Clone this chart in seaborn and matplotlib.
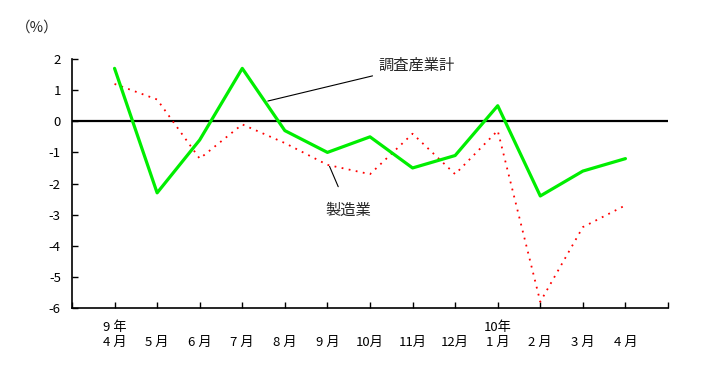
import numpy as np
import pandas as pd
import seaborn as sns
import matplotlib.pyplot as plt

plt.switch_backend("Agg")

# Month labels (Heisei 9 April .. Heisei 10 April); year shown on a line above
years = ["9 年", "", "", "", "", "", "", "", "", "10年", "", "", ""]
months = ["4 月", "5 月", "6 月", "7 月", "8 月", "9 月", "10月",
          "11月", "12月", "1 月", "2 月", "3 月", "4 月"]

# Year-on-year change (%)
all_industries = [1.7, -2.3, -0.6, 1.7, -0.3, -1.0, -0.5, -1.5, -1.1, 0.5, -2.4, -1.6, -1.2]
manufacturing = [1.2, 0.7, -1.2, -0.1, -0.7, -1.4, -1.7, -0.4, -1.7, -0.3, -5.8, -3.4, -2.7]

y_ticks = [-6, -5, -4, -3, -2, -1, 0, 1, 2]

sns.set_style("ticks")
plt.rcParams["font.family"] = ["Noto Sans CJK JP", "DejaVu Sans"]

df = pd.DataFrame({
    "pos": np.arange(len(months)),
    "調査産業計": all_industries,
    "製造業": manufacturing,
})

fig = plt.figure(figsize=(7.14, 3.69), dpi=100)
ax = fig.add_axes([0.1008, 0.1653, 0.8348, 0.6747])

ax.axhline(0, color="black", lw=1.6, zorder=1)
sns.lineplot(data=df, x="pos", y="製造業", ax=ax, color="#ff0000",
             lw=1.3, linestyle=(0, (1, 3)), zorder=2)
sns.lineplot(data=df, x="pos", y="調査産業計", ax=ax, color="#00ee00",
             lw=2.3, zorder=3)

labels = [f"{y}\n{m}" for y, m in zip(years, months)]
ax.set_xlim(-1, len(months))
ax.set_ylim(-6, 2)
ax.set_xticks(range(-1, len(months) + 1))
ax.set_xticklabels([""] + labels + [""], fontsize=9.5, linespacing=1.25)
ax.set_yticks(y_ticks)
ax.set_yticklabels([str(v) for v in y_ticks], fontsize=9.5)
ax.tick_params(direction="in", length=4, width=1, colors="black")
ax.tick_params(axis="x", pad=9)
ax.tick_params(axis="y", pad=8)
ax.set_xlabel("")
ax.set_ylabel("")
for side in ["top", "right"]:
    ax.spines[side].set_visible(False)
for side in ["left", "bottom"]:
    ax.spines[side].set_color("black")
    ax.spines[side].set_linewidth(1.2)

fig.text(0.022, 0.925, "（%）", fontsize=10.5, ha="left", va="center")

# Leader-line labels
ax.annotate("調査産業計", xy=(3.6, 0.65), xytext=(6.2, 1.8),
            fontsize=11, va="center", ha="left",
            arrowprops=dict(arrowstyle="-", color="black", lw=0.8,
                            shrinkA=2, shrinkB=0))
ax.annotate("製造業", xy=(5.05, -1.45), xytext=(4.95, -2.85),
            fontsize=11, va="center", ha="left",
            arrowprops=dict(arrowstyle="-", color="black", lw=0.8,
                            shrinkA=9, shrinkB=0))

fig.savefig("out.png", dpi=100)
